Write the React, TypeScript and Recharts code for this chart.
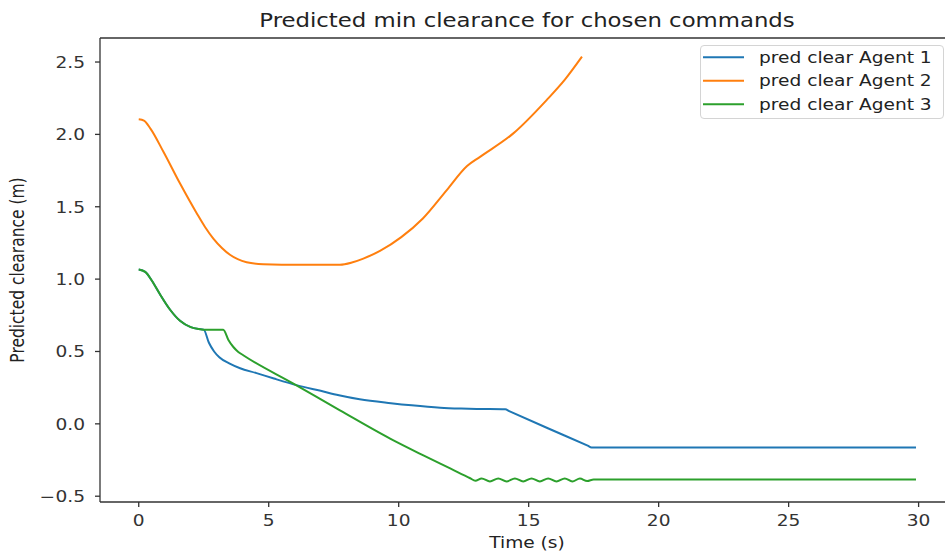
import React from 'react';
import { LineChart, Line, XAxis, YAxis, ReferenceLine, Customized } from 'recharts';

// ---- data (time in s, predicted clearance in m) ----
const agent1T = [0, 0.25, 0.5, 0.8, 1.2, 1.6, 2.0, 2.3, 2.5, 2.7, 2.9, 3.1, 3.5, 3.9, 4.5, 5.2, 6.1, 7.0, 7.7, 8.5, 9.7, 10.5, 11.6, 12.4, 13.0, 14.1, 14.25, 15.76, 17.27, 17.42, 20, 25, 29.9];
const agent1V = [1.066, 1.05, 0.99, 0.9, 0.79, 0.71, 0.668, 0.655, 0.651, 0.56, 0.5, 0.46, 0.416, 0.384, 0.352, 0.313, 0.266, 0.228, 0.198, 0.17, 0.143, 0.128, 0.112, 0.106, 0.103, 0.1, 0.088, -0.032, -0.151, -0.163, -0.163, -0.163, -0.163];

const agent2T = [0, 0.2, 0.45, 0.95, 1.59, 2.23, 2.55, 2.87, 3.2, 3.51, 4.15, 4.79, 5.5, 7.74, 8.2, 8.64, 9.28, 10.1, 10.93, 11.85, 12.63, 13.13, 14.41, 15.69, 16.4, 17.05];
const agent2V = [2.104, 2.095, 2.04, 1.88, 1.66, 1.455, 1.36, 1.28, 1.215, 1.168, 1.117, 1.103, 1.1, 1.1, 1.115, 1.142, 1.195, 1.29, 1.419, 1.615, 1.781, 1.845, 2.007, 2.237, 2.38, 2.537];

const agent3T = [0, 0.25, 0.5, 0.8, 1.2, 1.6, 2.0, 2.3, 2.5, 3.25, 3.45, 3.64, 3.83, 4.02, 5.95, 7.74, 9.67, 10.95, 12.0, 12.75, 12.95, 13.19, 13.51, 13.83, 14.15, 14.47, 14.79, 15.11, 15.43, 15.75, 16.07, 16.39, 16.68, 16.97, 17.25, 17.5, 20, 25, 29.9];
const agent3V = [1.066, 1.05, 0.99, 0.9, 0.79, 0.71, 0.668, 0.655, 0.651, 0.651, 0.58, 0.531, 0.497, 0.474, 0.278, 0.093, -0.102, -0.218, -0.31, -0.376, -0.393, -0.377, -0.398, -0.377, -0.398, -0.377, -0.398, -0.377, -0.398, -0.377, -0.398, -0.377, -0.398, -0.378, -0.395, -0.384, -0.384, -0.384, -0.384];

const seriesNames = ['pred clear Agent 1', 'pred clear Agent 2', 'pred clear Agent 3'];
const seriesColors = ['#1f77b4', '#ff7f0e', '#2ca02c'];

const xTicks = [0, 5, 10, 15, 20, 25, 30];
const yTicks = [-0.5, 0, 0.5, 1, 1.5, 2, 2.5];
const xDomain: [number, number] = [-1.49, 31.4];
const yDomain: [number, number] = [-0.54, 2.666];

const titleText = 'Predicted min clearance for chosen commands';
const xLabelText = 'Time (s)';
const yLabelText = 'Predicted clearance (m)';

const FONT = '"DejaVu Sans", sans-serif';
const SX = 1.2;
const INK = '#333';

const zip = (ts: number[], vs: number[]) => ts.map((t, i) => ({ t, v: vs[i] }));

const XTick = (props: any) => {
  const { x, y, payload } = props;
  return (
    <g transform={`translate(${x},${y + 19}) scale(${SX},1)`}>
      <text x={0} y={0} textAnchor="middle" fontFamily={FONT} fontSize={15.5} fill={INK}>
        {String(payload.value)}
      </text>
    </g>
  );
};

const YTick = (props: any) => {
  const { x, y, payload } = props;
  const label = Number(payload.value).toFixed(1).replace('-', '\u2212');
  return (
    <g transform={`translate(${x - 10},${y + 6}) scale(${SX},1)`}>
      <text x={0} y={0} textAnchor="end" fontFamily={FONT} fontSize={15.5} fill={INK}>
        {label}
      </text>
    </g>
  );
};

const Labels = () => (
  <g>
    <g transform={`translate(527,27) scale(${SX},1)`}>
      <text x={0} y={0} textAnchor="middle" fontFamily={FONT} fontSize={19} fill="#222">
        {titleText}
      </text>
    </g>
    <g transform={`translate(527,548) scale(${SX},1)`}>
      <text x={0} y={0} textAnchor="middle" fontFamily={FONT} fontSize={15.5} fill="#222">
        {xLabelText}
      </text>
    </g>
    <g transform={`translate(24,270) scale(${SX},1) rotate(-90)`}>
      <text x={0} y={0} textAnchor="middle" fontFamily={FONT} fontSize={15.5} fill="#222">
        {yLabelText}
      </text>
    </g>
  </g>
);

const LegendBox = () => (
  <div
    style={{
      position: 'absolute',
      left: 700,
      top: 45,
      width: 244,
      height: 74,
      boxSizing: 'border-box',
      border: '1px solid #d4d4d4',
      borderRadius: 4,
      background: 'rgba(255,255,255,0.8)',
    }}
  >
    <svg width={242} height={72} style={{ display: 'block' }}>
      {seriesNames.map((name, i) => {
        const cy = 11.3 + i * 23.5;
        return (
          <g key={name}>
            <line x1={2} x2={43} y1={cy} y2={cy} stroke={seriesColors[i]} strokeWidth={2} />
            <g transform={`translate(58,${cy + 5.5}) scale(${SX},1)`}>
              <text x={0} y={0} fontFamily={FONT} fontSize={15.5} fill="#222">
                {name}
              </text>
            </g>
          </g>
        );
      })}
    </svg>
  </div>
);

export default function App() {
  const d1 = zip(agent1T, agent1V);
  const d2 = zip(agent2T, agent2V);
  const d3 = zip(agent3T, agent3V);
  return (
    <div
      style={{
        position: 'absolute',
        left: 0,
        top: 0,
        width: 945,
        height: 552,
        overflow: 'hidden',
        background: '#fff',
      }}
    >
      <LineChart width={960} height={552} margin={{ top: 38, right: 5, bottom: 0, left: 40 }}>
        <XAxis
          type="number"
          dataKey="t"
          domain={xDomain}
          ticks={xTicks}
          allowDataOverflow
          height={50}
          tickSize={5}
          tickMargin={0}
          tick={<XTick />}
          axisLine={{ stroke: INK, strokeWidth: 1.3 }}
          tickLine={{ stroke: INK, strokeWidth: 1.3 }}
        />
        <YAxis
          type="number"
          domain={yDomain}
          ticks={yTicks}
          allowDataOverflow
          width={60}
          tickSize={5}
          tickMargin={0}
          tick={<YTick />}
          axisLine={{ stroke: INK, strokeWidth: 1.3 }}
          tickLine={{ stroke: INK, strokeWidth: 1.3 }}
        />
        <ReferenceLine y={yDomain[1]} stroke={INK} strokeWidth={1.3} />
        <Line data={d1} dataKey="v" name={seriesNames[0]} type="monotone" stroke={seriesColors[0]} strokeWidth={2} dot={false} isAnimationActive={false} />
        <Line data={d2} dataKey="v" name={seriesNames[1]} type="monotone" stroke={seriesColors[1]} strokeWidth={2} dot={false} isAnimationActive={false} />
        <Line data={d3} dataKey="v" name={seriesNames[2]} type="monotone" stroke={seriesColors[2]} strokeWidth={2} dot={false} isAnimationActive={false} />
        <Customized component={<Labels />} />
      </LineChart>
      <LegendBox />
    </div>
  );
}
